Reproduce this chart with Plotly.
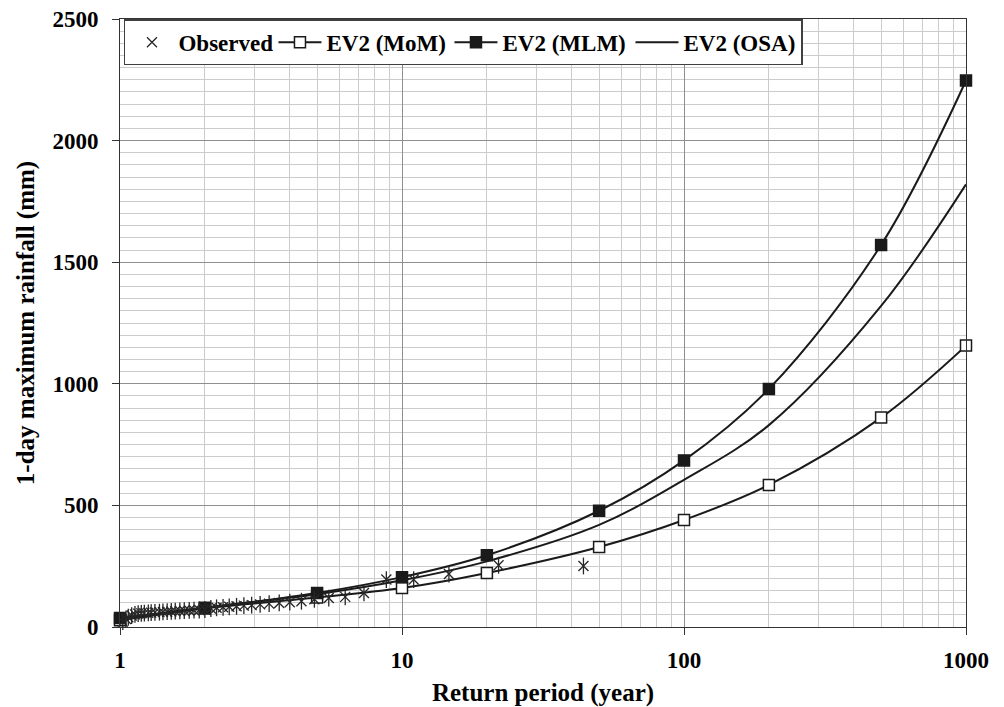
import plotly.graph_objects as go

# ---------------- data ----------------
return_period_fit = [1, 2, 5, 10, 20, 50, 100, 200, 500, 1000]
mom_values = [28, 76, 121, 160, 222, 329, 440, 584, 861, 1157]
mlm_values = [37, 79, 140, 205, 295, 478, 685, 979, 1571, 2247]
osa_values = [32, 79, 135, 192, 270, 420, 605, 830, 1320, 1820]

obs_T = [44.0, 22.0, 14.67, 11.0, 8.8, 7.33, 6.29, 5.5, 4.89, 4.4, 4.0, 3.67,
         3.38, 3.14, 2.93, 2.75, 2.59, 2.44, 2.32, 2.2, 2.1, 2.0, 1.91, 1.83,
         1.76, 1.69, 1.63, 1.57, 1.52, 1.47, 1.42, 1.38, 1.33, 1.29, 1.26,
         1.22, 1.19, 1.16, 1.13, 1.1, 1.07, 1.05, 1.023]
obs_values = [251, 254, 218, 195, 195, 140, 124, 119, 114, 106, 102, 99,
              96, 93, 90, 88, 85, 83, 81, 79, 76, 72, 70, 69,
              68, 67, 66, 65, 64, 63, 62, 61, 60, 59, 58,
              57, 56, 55, 52, 47, 40, 33, 22]

series_names = ["Observed", "EV2 (MoM)", "EV2 (MLM)", "EV2 (OSA)"]
x_title = "Return period (year)"
y_title = "1-day maximum rainfall (mm)"
x_tickvals = [1, 10, 100, 1000]
x_ticktext = ["1", "10", "100", "1000"]
x_minor_vals = [2, 3, 4, 5, 6, 7, 8, 9, 20, 30, 40, 50, 60, 70, 80, 90,
                200, 300, 400, 500, 600, 700, 800, 900]

FONT = "'Liberation Serif', 'DejaVu Serif', serif"
INK = "#1a1a1a"
STAR = "#262626"
BOLD = dict(family=FONT, color="black", weight="bold")

fig = go.Figure()

fig.add_trace(go.Scatter(
    x=return_period_fit, y=mom_values, mode="lines+markers", name=series_names[1],
    line=dict(color=INK, width=2, shape="spline", smoothing=1.0),
    marker=dict(symbol="square", size=11, color="white",
                line=dict(color=INK, width=1.5)),
    legendrank=2, legendwidth=118, cliponaxis=False))
fig.add_trace(go.Scatter(
    x=return_period_fit, y=mlm_values, mode="lines+markers", name=series_names[2],
    line=dict(color=INK, width=2, shape="spline", smoothing=1.0),
    marker=dict(symbol="square", size=11, color=INK,
                line=dict(color=INK, width=1.5)),
    legendrank=3, legendwidth=123, cliponaxis=False))
fig.add_trace(go.Scatter(
    x=return_period_fit, y=osa_values, mode="lines", name=series_names[3],
    line=dict(color=INK, width=2, shape="spline", smoothing=1.0),
    legendrank=4, legendwidth=113, cliponaxis=False))

fig.add_trace(go.Scatter(
    x=obs_T, y=obs_values, mode="markers", name=series_names[0],
    marker=dict(symbol="x-thin-open", size=10, color=STAR,
                line=dict(color=STAR, width=1.3)),
    legendrank=1, legendwidth=90, cliponaxis=False))
fig.add_trace(go.Scatter(
    x=obs_T, y=obs_values, mode="markers", name=series_names[0],
    marker=dict(symbol="line-ns-open", size=12, color=STAR,
                line=dict(color=STAR, width=1.3)),
    showlegend=False, cliponaxis=False, hoverinfo="skip"))

fig.update_layout(
    width=1004, height=707,
    margin=dict(l=120, r=38, t=19, b=80),
    paper_bgcolor="white", plot_bgcolor="white",
    font=dict(size=23, **BOLD),
    showlegend=True,
    legend=dict(
        orientation="h", x=0.0047, y=0.9995, xanchor="left", yanchor="top",
        bgcolor="white", bordercolor="#404040", borderwidth=1.5,
        font=dict(size=23, **BOLD),
        itemwidth=43, traceorder="normal"),
)

fig.update_xaxes(
    type="log", range=[0, 3], automargin=False,
    tickvals=x_tickvals, ticktext=x_ticktext,
    ticks="outside", ticklen=7, tickcolor="#333333", tickwidth=1,
    ticklabelstandoff=5,
    showline=True, linecolor="#333333", linewidth=1, mirror=True,
    showgrid=True, gridcolor="#8f8f8f", gridwidth=1,
    minor=dict(tickvals=x_minor_vals, showgrid=True, gridcolor="#cccccc",
               gridwidth=1, ticks=""),
    zeroline=False,
    title=dict(text=x_title, font=dict(size=25, **BOLD), standoff=19),
    tickfont=dict(size=23, **BOLD),
)
fig.update_yaxes(
    range=[0, 2500], dtick=500, tick0=0, automargin=False,
    ticks="outside", ticklen=7, tickcolor="#333333", tickwidth=1,
    ticklabelstandoff=9,
    showline=True, linecolor="#333333", linewidth=1, mirror=True,
    showgrid=True, gridcolor="#8f8f8f", gridwidth=1,
    minor=dict(dtick=50, showgrid=True, gridcolor="#cccccc", gridwidth=1, ticks=""),
    zeroline=False,
    title=dict(text=y_title, font=dict(size=25, **BOLD), standoff=10),
    tickfont=dict(size=23, **BOLD),
)

fig.write_html("out.html")
